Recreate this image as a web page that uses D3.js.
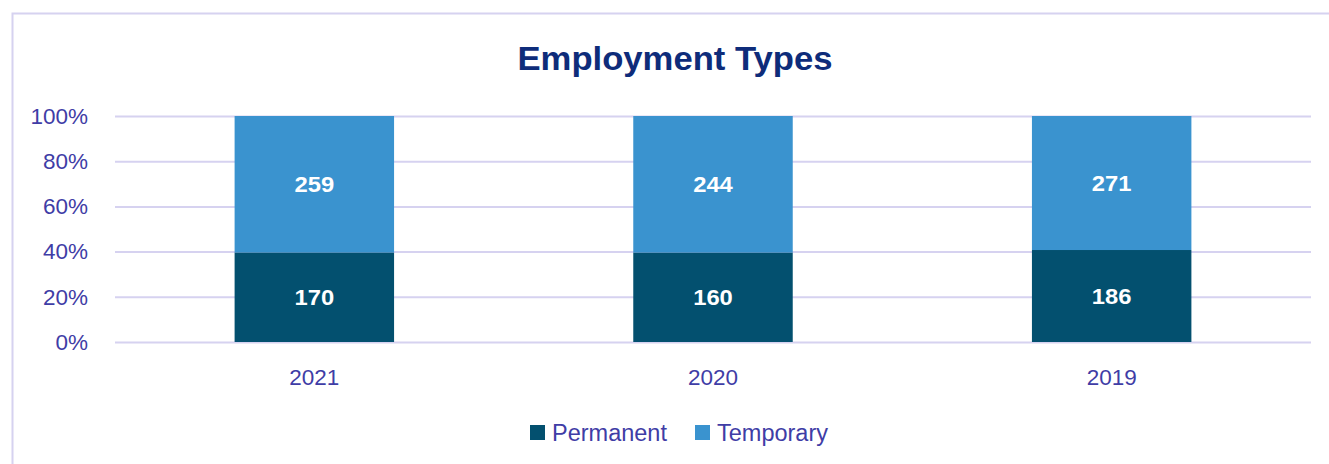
<!DOCTYPE html>
<html>
<head>
<meta charset="utf-8">
<script src="https://cdn.jsdelivr.net/npm/d3@7"></script>
<style>
  html, body { margin: 0; padding: 0; background: #fff; }
  svg { display: block; }
  text { font-family: "Liberation Sans", Arial, sans-serif; }
</style>
</head>
<body>
<svg id="chart" width="1329" height="464"></svg>
<script>
const categories = ["2021", "2020", "2019"];
const permanent = [170, 160, 186];
const temporary = [259, 244, 271];
const seriesNames = ["Permanent", "Temporary"];
const tickValues = [0, 0.2, 0.4, 0.6, 0.8, 1.0];
const titleText = "Employment Types";

const colors = { Permanent: "#03506F", Temporary: "#3A93CF" };
const textColor = "#3F3DA6";
const gridColor = "#D6D2F0";

const svg = d3.select("#chart");

// outer frame
svg.append("rect")
  .attr("x", 12.5).attr("y", 13.5)
  .attr("width", 1400).attr("height", 500)
  .attr("fill", "none").attr("stroke", gridColor).attr("stroke-width", 2);

const x = d3.scaleBand().domain(categories).range([115, 1311])
  .paddingInner(0.6).paddingOuter(0.3);
const y = d3.scaleLinear().domain([0, 1]).range([342, 116]);

// gridlines + y labels
const yAxis = d3.axisLeft(y).tickValues(tickValues).tickFormat(d3.format(".0%"))
  .tickSize(-(1311 - 115)).tickPadding(27);
const gy = svg.append("g").attr("transform", "translate(115,0)").call(yAxis);
gy.select(".domain").remove();
gy.selectAll(".tick line").attr("stroke", gridColor).attr("stroke-width", 2);
gy.selectAll(".tick text").attr("fill", textColor).attr("font-size", 22.5)
  .attr("font-family", "Liberation Sans, Arial, sans-serif");

// stacked data
const rows = categories.map((c, i) => ({ cat: c, Permanent: permanent[i], Temporary: temporary[i] }));
const stack = d3.stack().keys(seriesNames).offset(d3.stackOffsetExpand);
const layers = stack(rows);

const lg = svg.selectAll("g.layer").data(layers).enter().append("g")
  .attr("class", "layer").attr("fill", d => colors[d.key]);
lg.selectAll("rect").data(d => d).enter().append("rect")
  .attr("x", d => x(d.data.cat))
  .attr("width", x.bandwidth())
  .attr("y", d => y(d[1]))
  .attr("height", d => y(d[0]) - y(d[1]));

// value labels
layers.forEach(layer => {
  svg.append("g").selectAll("text").data(layer).enter().append("text")
    .attr("transform", d => `translate(${x(d.data.cat) + x.bandwidth() / 2},${(y(d[0]) + y(d[1])) / 2}) scale(1.08,1)`)
    .attr("text-anchor", "middle").attr("dominant-baseline", "central")
    .attr("fill", "#fff").attr("font-weight", "bold").attr("font-size", 22)
    .text(d => d.data[layer.key]);
});

// x axis labels
const xAxis = d3.axisBottom(x).tickSize(0).tickPadding(0);
const gx = svg.append("g").attr("transform", "translate(0,342)").call(xAxis);
gx.select(".domain").remove();
gx.selectAll(".tick text").attr("fill", textColor).attr("font-size", 22.5)
  .attr("font-family", "Liberation Sans, Arial, sans-serif")
  .attr("dy", null).attr("y", 35).attr("dominant-baseline", "central");

// title
svg.append("text")
  .attr("transform", "translate(675,70) scale(1.05,1)")
  .attr("text-anchor", "middle").attr("fill", "#0E2C7A")
  .attr("font-size", 33).attr("font-weight", "bold")
  .text(titleText);

// legend
const legendX = [530, 695];
const leg = svg.append("g").selectAll("g").data(seriesNames).enter().append("g")
  .attr("transform", (d, i) => `translate(${legendX[i]},425)`);
leg.append("rect").attr("width", 15).attr("height", 15).attr("fill", d => colors[d]);
leg.append("text").attr("x", 22).attr("y", 7.5).attr("dominant-baseline", "central")
  .attr("fill", textColor).attr("font-size", 23.5).text(d => d);
</script>
</body>
</html>
